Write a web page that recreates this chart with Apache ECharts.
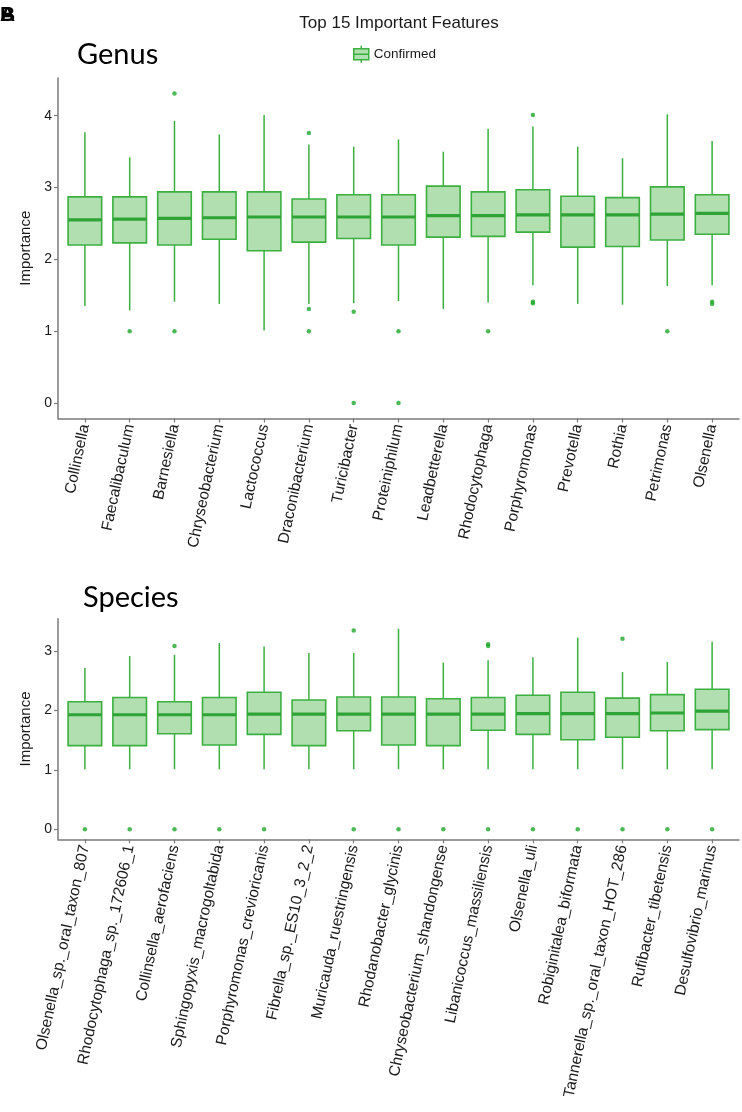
<!DOCTYPE html>
<html>
<head>
<meta charset="utf-8">
<script src="https://cdn.jsdelivr.net/npm/echarts@6/dist/echarts.min.js"></script>
<style>
html,body{margin:0;padding:0;background:#fff;}
#chart{width:742px;height:1112px;}
</style>
</head>
<body>
<div id="chart"></div>
<script>
// ---------- DATA ----------
const genusNames = ['Collinsella','Faecalibaculum','Barnesiella','Chryseobacterium','Lactococcus','Draconibacterium','Turicibacter','Proteiniphilum','Leadbetterella','Rhodocytophaga','Porphyromonas','Prevotella','Rothia','Petrimonas','Olsenella'];
const genusLow    = [1.35,1.29,1.41,1.38,1.01,1.38,1.39,1.42,1.31,1.40,1.64,1.38,1.37,1.63,1.64];
const genusQ1     = [2.20,2.23,2.20,2.28,2.12,2.24,2.29,2.20,2.31,2.32,2.38,2.17,2.18,2.27,2.35];
const genusMedian = [2.55,2.56,2.57,2.58,2.59,2.59,2.59,2.59,2.61,2.61,2.62,2.62,2.62,2.63,2.64];
const genusQ3     = [2.87,2.87,2.94,2.94,2.94,2.84,2.90,2.90,3.02,2.94,2.97,2.88,2.86,3.01,2.90];
const genusHigh   = [3.77,3.42,3.93,3.74,4.01,3.60,3.57,3.67,3.50,3.82,3.85,3.57,3.41,4.02,3.65];
const genusOutliers = [[1,1.0],[2,4.31],[2,1.0],[5,3.76],[5,1.31],[5,1.0],[6,1.27],[6,0],[7,1.0],[7,0],[9,1.0],[10,4.01],[10,1.41],[10,1.39],[13,1.0],[14,1.41],[14,1.38]];
const genusTicks = [0,1,2,3,4];

const speciesNames = ['Olsenella_sp._oral_taxon_807','Rhodocytophaga_sp._172606_1','Collinsella_aerofaciens','Sphingopyxis_macrogoltabida','Porphyromonas_crevioricanis','Fibrella_sp._ES10_3_2_2','Muricauda_ruestringensis','Rhodanobacter_glycinis','Chryseobacterium_shandongense','Libanicoccus_massiliensis','Olsenella_uli','Robiginitalea_biformata','Tannerella_sp._oral_taxon_HOT_286','Rufibacter_tibetensis','Desulfovibrio_marinus'];
const speciesLow    = [1.01,1.01,1.01,1.01,1.01,1.01,1.01,1.01,1.01,1.01,1.01,1.01,1.01,1.01,1.01];
const speciesQ1     = [1.41,1.41,1.61,1.42,1.60,1.41,1.66,1.42,1.41,1.67,1.60,1.51,1.55,1.66,1.68];
const speciesMedian = [1.93,1.93,1.93,1.93,1.94,1.94,1.94,1.94,1.94,1.94,1.95,1.95,1.95,1.96,1.99];
const speciesQ3     = [2.15,2.22,2.15,2.22,2.31,2.18,2.23,2.23,2.20,2.22,2.26,2.31,2.21,2.27,2.36];
const speciesHigh   = [2.72,2.92,2.94,3.14,3.08,2.97,2.97,3.38,2.81,2.85,2.90,3.23,2.65,2.82,3.16];
const speciesOutliers = [[0,0],[1,0],[2,3.09],[2,0],[3,0],[4,0],[6,3.35],[6,0],[7,0],[8,0],[9,3.12],[9,3.09],[9,0],[10,0],[11,0],[12,3.21],[12,0],[13,0],[14,0]];
const speciesTicks = [0,1,2,3];

const chartTitle = 'Top 15 Important Features';
const legendName = 'Confirmed';
const yName = 'Importance';

// ---------- STYLE ----------
const FONT = 'Liberation Sans';
const BOX_FILL = '#b1dfb0';
const BOX_STROKE = '#3bb040';
const MEDIAN_STROKE = '#2ea336';
const DOT = '#1fa82a';
const AXIS = '#7a7a7a';
const TEXT = '#1a1a1a';

function boxRows(low, q1, med, q3, high) {
  return low.map((v, i) => [i, v, q1[i], med[i], q3[i], high[i]]);
}
function extentPad(arrs) {
  let mn = Infinity, mx = -Infinity;
  arrs.forEach(a => a.forEach(v => { mn = Math.min(mn, v); mx = Math.max(mx, v); }));
  const p = (mx - mn) * 0.05;
  return [mn - p, mx + p];
}
const genusExt = extentPad([genusLow, genusHigh, genusOutliers.map(d => d[1])]);
const speciesExt = extentPad([speciesLow, speciesHigh, speciesOutliers.map(d => d[1])]);

function renderBox(params, api) {
  const x = api.value(0);
  const pLow = api.coord([x, api.value(1)]);
  const pQ1 = api.coord([x, api.value(2)]);
  const pMed = api.coord([x, api.value(3)]);
  const pQ3 = api.coord([x, api.value(4)]);
  const pHigh = api.coord([x, api.value(5)]);
  const w = api.size([1, 0])[0] * 0.75;
  const cx = pMed[0];
  return {
    type: 'group',
    children: [
      { type: 'line', shape: { x1: cx, y1: pHigh[1], x2: cx, y2: pQ3[1] }, style: { stroke: BOX_STROKE, lineWidth: 1.5 } },
      { type: 'line', shape: { x1: cx, y1: pQ1[1], x2: cx, y2: pLow[1] }, style: { stroke: BOX_STROKE, lineWidth: 1.5 } },
      { type: 'rect', shape: { x: cx - w / 2, y: pQ3[1], width: w, height: pQ1[1] - pQ3[1] }, style: { fill: BOX_FILL, stroke: BOX_STROKE, lineWidth: 1.6 } },
      { type: 'line', shape: { x1: cx - w / 2, y1: pMed[1], x2: cx + w / 2, y2: pMed[1] }, style: { stroke: MEDIAN_STROKE, lineWidth: 3.2 } }
    ]
  };
}

function xAxisCfg(gridIndex, names) {
  return {
    type: 'value', gridIndex, min: -0.6, max: names.length - 1 + 0.6,
    splitLine: { show: false },
    axisLine: { show: true, onZero: false, lineStyle: { color: AXIS, width: 1.5 } },
    axisTick: { show: true, length: 4, customValues: names.map((_, i) => i), lineStyle: { color: AXIS, width: 1.2 } },
    axisLabel: {
      customValues: names.map((_, i) => i),
      formatter: v => names[Math.round(v)] || '',
      rotate: 78, margin: 6, fontFamily: FONT, fontSize: 15.5, color: TEXT
    }
  };
}
function yAxisCfg(gridIndex, ext, ticks) {
  return {
    type: 'value', gridIndex, min: ext[0], max: ext[1],
    name: yName, nameLocation: 'middle', nameRotate: 90, nameGap: 21,
    nameTextStyle: { fontFamily: FONT, fontSize: 15, color: TEXT },
    splitLine: { show: false },
    axisLine: { show: true, onZero: false, lineStyle: { color: AXIS, width: 1.5 } },
    axisTick: { show: true, length: 4, customValues: ticks, lineStyle: { color: AXIS, width: 1.2 } },
    axisLabel: { customValues: ticks, formatter: v => String(Math.round(v)), margin: 6, fontFamily: FONT, fontSize: 14, color: TEXT }
  };
}

const chart = echarts.init(document.getElementById('chart'), null, { renderer: 'canvas' });
chart.setOption({
  animation: false,
  backgroundColor: '#fff',
  legend: {
    left: 348, top: 40, itemWidth: 15, itemHeight: 17, itemGap: 10,
    textStyle: { fontFamily: FONT, fontSize: 13.5, color: TEXT },
    data: [{
      name: legendName,
      icon: 'path://M7.5,0L7.5,3M0,3L15,3L15,14L0,14ZM0,8.5L15,8.5M7.5,14L7.5,17',
      itemStyle: { color: BOX_FILL, borderColor: BOX_STROKE, borderWidth: 1.5 }
    }],
    selectedMode: false
  },
  grid: [
    { left: 58, top: 78, width: 681, height: 340.5 },
    { left: 58, top: 618.7, width: 681, height: 220.6 }
  ],
  xAxis: [xAxisCfg(0, genusNames), xAxisCfg(1, speciesNames)],
  yAxis: [yAxisCfg(0, genusExt, genusTicks), yAxisCfg(1, speciesExt, speciesTicks)],
  graphic: [
    { type: 'text', left: 0, top: 5, style: { text: 'A', font: 'bold 21px "Liberation Sans"', fill: '#000' } },
    { type: 'text', left: 0, top: 5, style: { text: 'B', font: 'bold 21px "Liberation Sans"', fill: '#000' } },
    { type: 'text', x: 399, y: 23, style: { text: chartTitle, font: '17px "Liberation Sans"', fill: TEXT, textAlign: 'center', textVerticalAlign: 'middle' } },
    { type: 'text', x: 77, y: 55, style: { text: 'Genus', font: '29px Lato', fill: '#000', textAlign: 'left', textVerticalAlign: 'middle' } },
    { type: 'text', x: 83, y: 598, style: { text: 'Species', font: '29px Lato', fill: '#000', textAlign: 'left', textVerticalAlign: 'middle' } }
  ],
  series: [
    {
      name: legendName, type: 'custom', xAxisIndex: 0, yAxisIndex: 0,
      itemStyle: { color: BOX_FILL, borderColor: BOX_STROKE },
      encode: { x: 0, y: [1, 2, 3, 4, 5] },
      renderItem: renderBox,
      data: boxRows(genusLow, genusQ1, genusMedian, genusQ3, genusHigh)
    },
    {
      name: 'genus outliers', type: 'scatter', xAxisIndex: 0, yAxisIndex: 0,
      symbolSize: 4.5, itemStyle: { color: DOT }, data: genusOutliers
    },
    {
      name: legendName, type: 'custom', xAxisIndex: 1, yAxisIndex: 1,
      itemStyle: { color: BOX_FILL, borderColor: BOX_STROKE },
      encode: { x: 0, y: [1, 2, 3, 4, 5] },
      renderItem: renderBox,
      data: boxRows(speciesLow, speciesQ1, speciesMedian, speciesQ3, speciesHigh)
    },
    {
      name: 'species outliers', type: 'scatter', xAxisIndex: 1, yAxisIndex: 1,
      symbolSize: 4.5, itemStyle: { color: DOT }, data: speciesOutliers
    }
  ]
});
</script>
</body>
</html>
